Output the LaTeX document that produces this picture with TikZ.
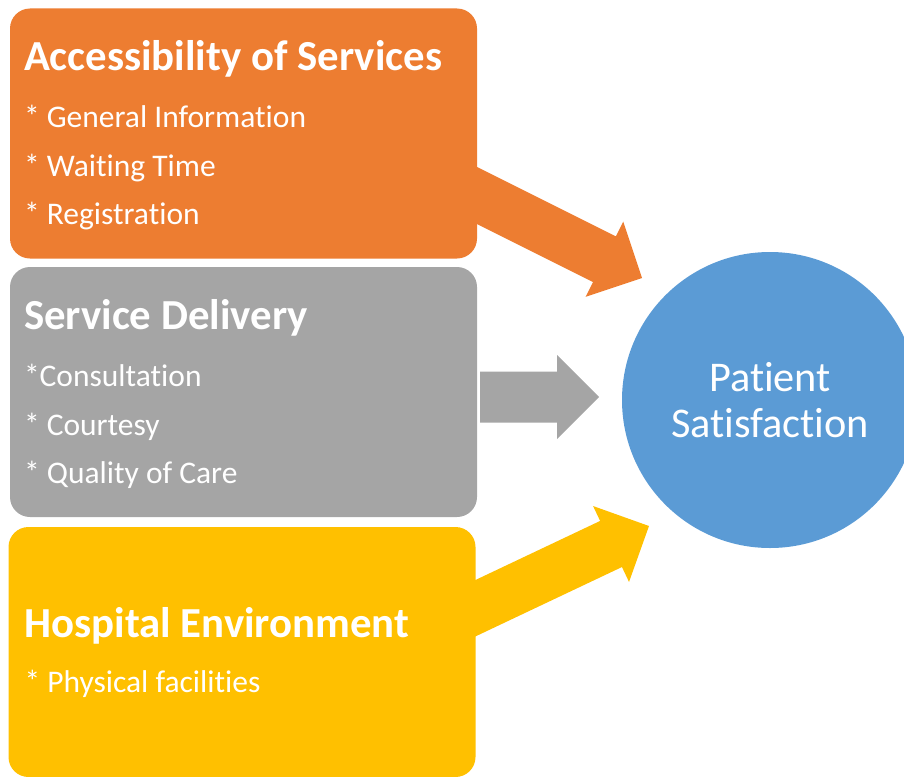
\documentclass[tikz,border=0pt]{standalone}
\usepackage{fontspec}
\setmainfont{Carlito}[Ligatures=NoCommon]
\usetikzlibrary{calc}
\definecolor{accorange}{HTML}{ED7D31}
\definecolor{delgray}{HTML}{A5A5A5}
\definecolor{envyellow}{HTML}{FFC000}
\definecolor{satblue}{HTML}{5B9BD5}

% fat arrow: shaft 51 wide, head 84 wide and 42 long
\newcommand{\fatarrow}[3]{%
  \fill[#1] let \p1=($(#3)-(#2)$), \n1={atan2(\y1,\x1)} in
    ($(#2)+({\n1+90}:25.5)$) -- ($(#3)+({\n1+180}:42)+({\n1+90}:25.5)$)
    -- ($(#3)+({\n1+180}:42)+({\n1+90}:42)$) -- (#3)
    -- ($(#3)+({\n1+180}:42)+({\n1-90}:42)$) -- ($(#3)+({\n1+180}:42)+({\n1-90}:25.5)$)
    -- ($(#2)+({\n1-90}:25.5)$) -- cycle;}

\begin{document}
\begin{tikzpicture}[x=1pt,y=1pt,
    box/.style={rounded corners=20pt,minimum width=467pt,minimum height=250pt,inner sep=0pt},
    title/.style={anchor=base west,inner sep=0pt,text=white,font=\bfseries\fontsize{42.8}{42.8}\selectfont},
    item/.style={anchor=base west,inner sep=0pt,text=white,font=\fontsize{31.5}{31.5}\selectfont}]
  \clip (0,0) rectangle (904,-776);

  % arrows go first, the boxes hide their tails
  \coordinate (acc-out) at (440,-177);
  \coordinate (del-out) at (480,-397);
  \coordinate (env-out) at (440,-625);
  \coordinate (sat-a) at (642,-278);
  \coordinate (sat-d) at (599,-397);
  \coordinate (sat-e) at (649,-526);
  \fatarrow{accorange}{acc-out}{sat-a}
  \fatarrow{delgray}{del-out}{sat-d}
  \fatarrow{envyellow}{env-out}{sat-e}

  \node[box,fill=accorange] (acc) at (243.5,-133.5) {};
  \node[box,fill=delgray] (del) at (243.5,-392) {};
  \node[box,fill=envyellow] (env) at (242,-652) {};

  \node[title] (acc-t) at ($(acc.north west)+(14,-62)$) {Accessibility of Services};
  \node[item] (acc-1) at ($(acc.north west)+(14,-119)$) {* General Information};
  \node[item] (acc-2) at ($(acc.north west)+(14,-168)$) {* Waiting Time};
  \node[item] (acc-3) at ($(acc.north west)+(14,-216)$) {* Registration};

  \node[title] (del-t) at ($(del.north west)+(14,-63)$) {Service Delivery};
  \node[item] (del-1) at ($(del.north west)+(14,-120)$) {*Consultation};
  \node[item] (del-2) at ($(del.north west)+(14,-169)$) {* Courtesy};
  \node[item] (del-3) at ($(del.north west)+(14,-217)$) {* Quality of Care};

  \node[title] (env-t) at ($(env.north west)+(16,-111)$) {Hospital Environment};
  \node[item] (env-1) at ($(env.north west)+(16,-166)$) {* Physical facilities};

  \node[circle,fill=satblue,minimum size=296pt,inner sep=0pt,text=white,align=center,
    font=\fontsize{42.3}{46}\selectfont] (sat) at (770,-400) {Patient\\Satisfaction};
\end{tikzpicture}
\end{document}
